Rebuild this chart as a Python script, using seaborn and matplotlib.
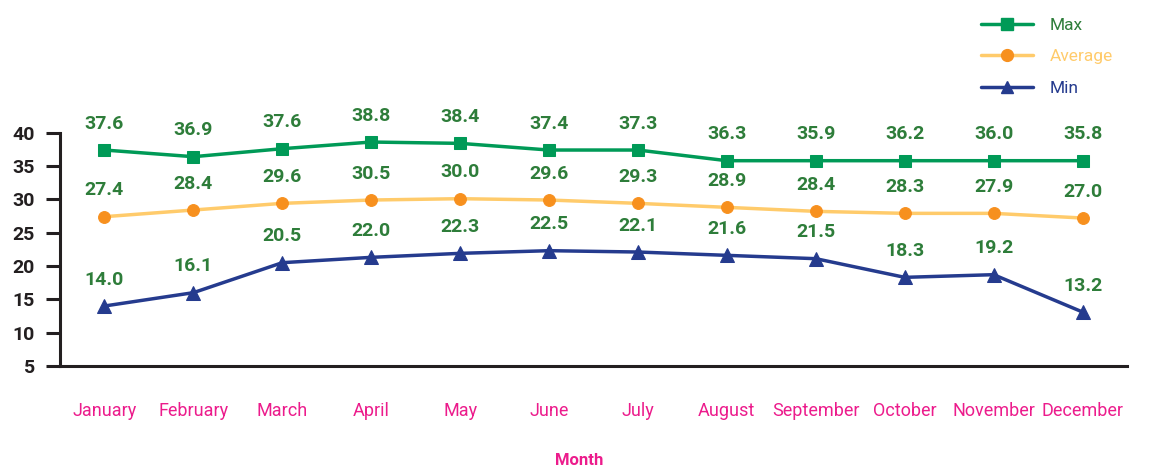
import numpy as np
import pandas as pd
import matplotlib
matplotlib.use("Agg")
import matplotlib.pyplot as plt
from matplotlib.lines import Line2D
import seaborn as sns

# Dados do gráfico
months = ["January", "February", "March", "April", "May", "June",
          "July", "August", "September", "October", "November", "December"]

max_vals = [37.4, 36.4, 37.6, 38.6, 38.4, 37.4, 37.4, 35.8, 35.8, 35.8, 35.8, 35.8]
avg_vals = [27.4, 28.4, 29.4, 29.9, 30.1, 29.9, 29.4, 28.8, 28.2, 27.9, 27.9, 27.2]
min_vals = [14.0, 16.0, 20.5, 21.3, 21.9, 22.3, 22.1, 21.6, 21.1, 18.3, 18.7, 13.1]

# rótulos escritos acima dos pontos
max_labels = ["37.6", "36.9", "37.6", "38.8", "38.4", "37.4", "37.3", "36.3", "35.9", "36.2", "36.0", "35.8"]
avg_labels = ["27.4", "28.4", "29.6", "30.5", "30.0", "29.6", "29.3", "28.9", "28.4", "28.3", "27.9", "27.0"]
min_labels = ["14.0", "16.1", "20.5", "22.0", "22.3", "22.5", "22.1", "21.6", "21.5", "18.3", "19.2", "13.2"]

y_ticks = [5, 10, 15, 20, 25, 30, 35, 40]

# cores
green = "#009A57"
label_green = "#2E7D3A"
avg_line = "#FFCB6B"
avg_marker = "#F7901E"
navy = "#253B8E"
pink = "#EC1C8C"
axis_col = "#231F20"

sns.set_theme(style="white")
plt.rcParams["font.family"] = ["Roboto", "DejaVu Sans"]

fig = plt.figure(figsize=(11.51, 4.74), dpi=100)
ax = fig.add_axes([60 / 1151, 108 / 474, 1067 / 1151, 233.3 / 474])

df = pd.DataFrame({"month": months, "max": max_vals, "avg": avg_vals, "min": min_vals})

series = [
    ("max", max_labels, green, green, "s", 8.5),
    ("avg", avg_labels, avg_line, avg_marker, "o", 8.5),
    ("min", min_labels, navy, navy, "^", 10),
]

for col, labels, lcol, mcol, mk, ms in series:
    sns.lineplot(data=df, x="month", y=col, ax=ax, sort=False, color=lcol,
                 linewidth=2.5, marker=mk, markersize=ms, markerfacecolor=mcol,
                 markeredgecolor=mcol, clip_on=False, zorder=3)
    for i, (v, t) in enumerate(zip(df[col], labels)):
        ax.annotate(t, (i, v), xytext=(0, 19), textcoords="offset points",
                    ha="center", va="center", fontsize=14, fontweight="bold",
                    color=label_green, annotation_clip=False)

ax.set_xlim(-0.5, 11.5)
ax.set_ylim(5, 40)
ax.set_yticks(y_ticks)
ax.set_yticklabels([str(v) for v in y_ticks], fontsize=14, fontweight="bold", color=axis_col)
ax.set_xticks(range(len(months)))
ax.set_xticklabels(months, fontsize=13, color=pink)
ax.set_xticks(np.arange(-0.5, 12, 1), minor=True)
ax.tick_params(axis="x", which="major", length=0, pad=26)
ax.tick_params(axis="x", which="minor", length=10, width=2.2, color=axis_col, direction="out")
ax.tick_params(axis="y", length=10, width=2.2, color=axis_col, direction="out", pad=8, left=True)

for s in ["top", "right"]:
    ax.spines[s].set_visible(False)
for s in ["left", "bottom"]:
    ax.spines[s].set_linewidth(2.2)
    ax.spines[s].set_color(axis_col)

ax.set_ylabel("")
ax.set_xlabel("Month", fontsize=12, fontweight="bold", color=pink)
ax.xaxis.set_label_coords((579 - 60) / 1067, -0.375)

# legenda
handles = [
    Line2D([], [], color=green, lw=2.5, marker="s", markersize=8.5, markerfacecolor=green, markeredgecolor=green),
    Line2D([], [], color=avg_line, lw=2.5, marker="o", markersize=8.5, markerfacecolor=avg_marker, markeredgecolor=avg_marker),
    Line2D([], [], color=navy, lw=2.5, marker="^", markersize=9, markerfacecolor=navy, markeredgecolor=navy),
]
leg = fig.legend(handles, ["Max", "Average", "Min"], loc="upper left",
                 bbox_to_anchor=(965 / 1151, 1 - 2 / 474), frameon=False,
                 fontsize=12.5, handlelength=3.0, handletextpad=1.0, labelspacing=0.95,
                 labelcolor=[label_green, avg_line, navy])

fig.savefig("out.png", dpi=100)
